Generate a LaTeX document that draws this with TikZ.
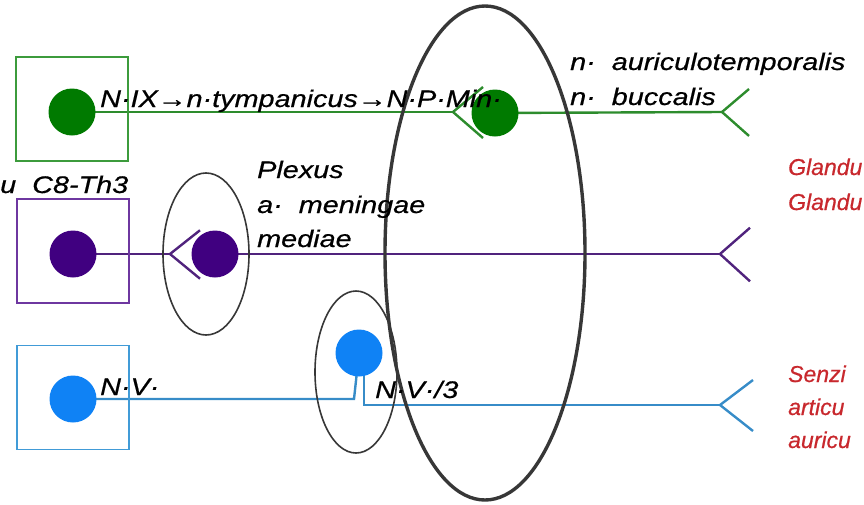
\documentclass[tikz,border=0pt]{standalone}
\usepackage{fontspec}
\newfontfamily\hand{Liberation Sans}[FakeStretch=1.2,FakeBold=0.6]
\newfontfamily\handr{Liberation Sans}[FakeBold=0.6]
\usetikzlibrary{shapes.geometric,backgrounds}
\definecolor{gline}{RGB}{45,140,45}
\definecolor{gdot}{RGB}{0,122,0}
\definecolor{gbox}{RGB}{60,155,60}
\definecolor{pline}{RGB}{80,35,125}
\definecolor{pdot}{RGB}{64,0,128}
\definecolor{pbox}{RGB}{110,55,160}
\definecolor{bline}{RGB}{55,140,200}
\definecolor{bdot}{RGB}{15,130,245}
\definecolor{bbox}{RGB}{65,155,215}
\definecolor{rtext}{RGB}{200,40,45}
\definecolor{eline}{RGB}{55,55,55}
\begin{document}
\begin{tikzpicture}[x=1pt,y=-1pt,
  lbl/.style={font=\hand\itshape\fontsize{24}{28}\selectfont, inner sep=0pt, anchor=base west, text=black},
  rlbl/.style={lbl, font=\handr\itshape\fontsize{23}{28}\selectfont, text=rtext},
  dot/.style={circle, minimum size=47pt, inner sep=0pt, fill=#1},
  nbox/.style={rectangle, draw=#1, line width=1.8pt, minimum width=112pt, minimum height=104pt, inner sep=0pt},
  nerve/.style={draw=#1, line width=2.4pt},
  ganglion/.style={ellipse, draw=eline, line width=1.6pt, inner sep=0pt},
  synend/.pic={\draw[pic actions] (0,0) -- (30,-25) (0,0) -- (30,26);}
]
\useasboundingbox (0,0) rectangle (864,504);
% boxes
\node[nbox=gbox] (gb) at (72,109) {};
\node[nbox=pbox] (pb) at (73,251) {};
\node[nbox=bbox] (bb) at (73,397.5) {};
% dots
\node[dot=gdot] (g1) at (72,112) {};
\node[dot=gdot] (g2) at (495,113) {};
\node[dot=pdot] (p1) at (73,254) {};
\node[dot=pdot] (p2) at (215,254) {};
\node[dot=bdot] (b1) at (73,399) {};
\node[dot=bdot] (b2) at (359,353) {};
% ellipses
\node[ganglion, line width=3.4pt, minimum width=200pt, minimum height=494pt] (big) at (485,253) {};
\node[ganglion, minimum width=86pt, minimum height=162pt] (pe) at (206,254) {};
\node[ganglion, minimum width=82pt, minimum height=162pt] (be) at (356,372) {};
% end points
\coordinate (gf) at (453,112);
\coordinate (ge) at (722,112);
\coordinate (pf) at (170,254);
\coordinate (pen) at (720,254);
\coordinate (bl) at (354,399);
\coordinate (br) at (364,405);
\coordinate (ben) at (720,405);
\begin{scope}[on background layer]
\draw[nerve=gline] (g1.center) -- (gf);
\draw[nerve=gline] (g2.center) -- (ge);
\draw[nerve=pline] (p1.center) -- (pf);
\draw[nerve=pline] (p2.center) -- (pen);
\draw[nerve=bline] (b1.center) -- (bl) -- (b2.center);
\draw[nerve=bline] (b2.center) -- (b2.center -| br) -- (br) -- (ben);
\end{scope}
\pic[nerve=gline] at (gf) {synend};
\pic[nerve=gline, yscale=0.92, xscale=0.9] at (ge) {synend};
\pic[nerve=pline, yscale=0.95] at (pf) {synend};
\pic[nerve=pline, yscale=1.05] at (pen) {synend};
\pic[nerve=bline, xscale=1.1] at (ben) {synend};
% labels
\node[lbl] (t1) at (100,107) {N·IX→n·tympanicus→N·P·Min·};
\node[lbl] (t2) at (570,70) {n·\ \ auriculotemporalis};
\node[lbl] (t3) at (570,105) {n·\ \ buccalis};
\node[lbl] (t4) at (0,193) {u\ \ C8-Th3};
\node[lbl] (t5) at (257,178) {Plexus};
\node[lbl] (t6) at (257,213) {a·\ \ meningae};
\node[lbl] (t7) at (257,247) {mediae};
\node[rlbl] (t8) at (788,175) {Glandu};
\node[rlbl] (t9) at (788,210) {Glandu};
\node[lbl] (t10) at (100,395) {N·V·};
\node[lbl] (t11) at (375,398) {N·V·/3};
\node[rlbl] (t12) at (788,382) {Senzi};
\node[rlbl] (t13) at (788,415) {articu};
\node[rlbl] (t14) at (788,448) {auricu};
\end{tikzpicture}
\end{document}
